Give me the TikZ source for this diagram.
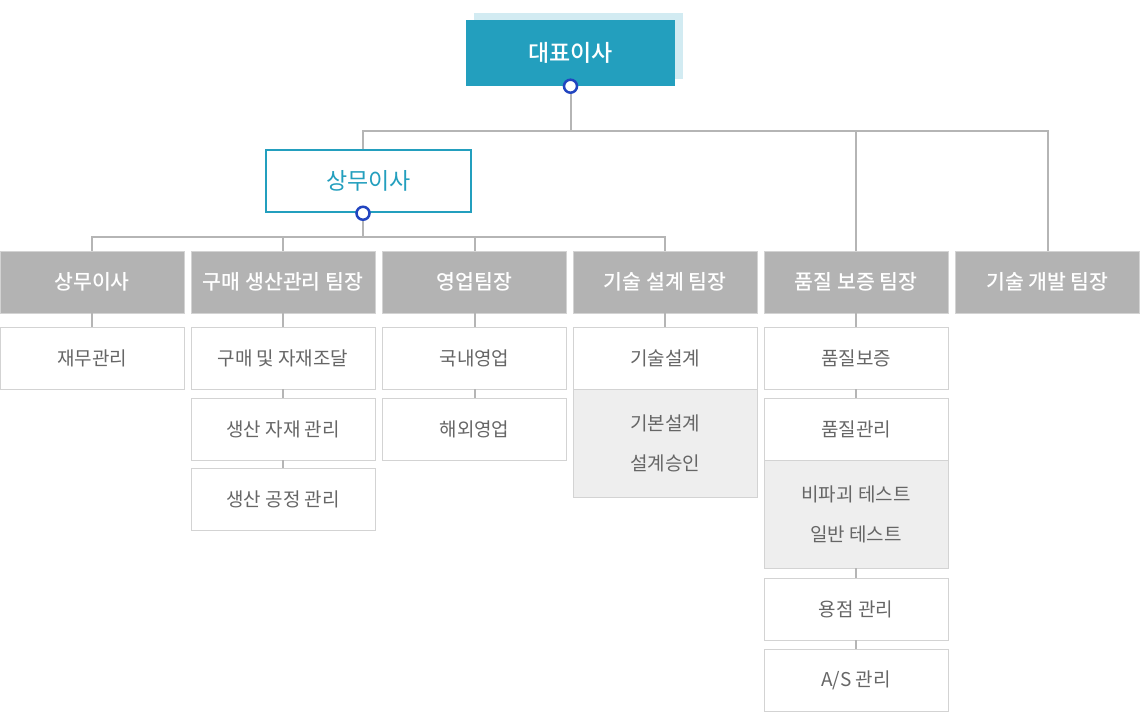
\documentclass[tikz,border=0pt]{standalone}
\usepackage{fontspec}
\setmainfont{Noto Sans CJK KR}
\newfontfamily\krmed{Noto Sans CJK KR Medium}
\usetikzlibrary{positioning,shadows}
\definecolor{ceoblue}{HTML}{239FBE}
\definecolor{ceoshade}{HTML}{D2EBF2}
\definecolor{dotblue}{HTML}{2245C0}
\definecolor{headgrey}{HTML}{B3B3B3}
\definecolor{framegrey}{HTML}{D3D3D3}
\definecolor{linkgrey}{HTML}{B5B5B5}
\definecolor{subfill}{HTML}{EEEEEE}
\definecolor{subtext}{HTML}{666666}
\begin{document}
\begin{tikzpicture}[x=1pt,y=-1pt,
    ceobox/.style={fill=ceoblue,minimum width=209pt,minimum height=66pt,inner sep=0pt,
        text=white,font=\krmed\fontsize{23}{27}\selectfont,
        general shadow={fill=ceoshade,shadow xshift=8pt,shadow yshift=7pt}},
    execbox/.style={draw=ceoblue,line width=2.5pt,fill=white,minimum width=205pt,minimum height=62pt,
        inner sep=0pt,text=ceoblue,font=\fontsize{23}{27}\selectfont},
    headbox/.style={draw=framegrey,fill=headgrey,minimum width=184pt,minimum height=62pt,inner sep=0pt,
        text=white,font=\krmed\fontsize{20.5}{24}\selectfont},
    subbox/.style={draw=framegrey,fill=white,minimum width=184pt,minimum height=62pt,inner sep=0pt,
        text=subtext,font=\fontsize{19}{23}\selectfont},
    pairbox/.style={subbox,fill=subfill,minimum height=108pt,align=center,font=\fontsize{19}{40}\selectfont},
    dot/.style={circle,draw=dotblue,fill=white,line width=2.5pt,minimum size=13pt,inner sep=0pt},
    link/.style={draw=linkgrey,line width=2pt}]
    \useasboundingbox (0,0) rectangle (1140,721);

    % top
    \node[ceobox] (ceo) at (570.5,53) {대표이사};
    \node[execbox] (exec) at (368.5,181) {상무이사};
    \coordinate (bus1) at (570.5,131);
    \coordinate (bus2) at (363,237);

    % team heads
    \node[headbox] (head1) at (92,282) {상무이사};
    \node[headbox] (head2) at (283,282) {구매 생산관리 팀장};
    \node[headbox] (head3) at (474.5,282) {영업팀장};
    \node[headbox] (head4) at (665,282) {기술 설계 팀장};
    \node[headbox] (head5) at (856,282) {품질 보증 팀장};
    \node[headbox] (head6) at (1047.5,282) {기술 개발 팀장};

    % tasks
    \node[subbox] (fin) at (92,358) {재무관리};
    \node[subbox] (buy) at (283,358) {구매 및 자재조달};
    \node[subbox] (stock) at (283,429) {생산 자재 관리};
    \node[subbox] (proc) at (283,499) {생산 공정 관리};
    \node[subbox] (home) at (474.5,358) {국내영업};
    \node[subbox] (abroad) at (474.5,429) {해외영업};
    \node[subbox] (design) at (665,358) {기술설계};
    \node[pairbox] (basic) at (665,443) {기본설계\\설계승인};
    \node[subbox] (qa) at (856,358) {품질보증};
    \node[subbox] (qc) at (856,429) {품질관리};
    \node[pairbox] (test) at (856,514) {비파괴 테스트\\일반 테스트};
    \node[subbox] (weld) at (856,609) {용점 관리};
    \node[subbox] (service) at (856,680) {A/S 관리};

    % connectors
    \coordinate (exectop) at (bus2 |- exec.north);
    \coordinate (execfoot) at (bus2 |- exec.south);
    \draw[link] (ceo.south) -- (bus1);
    \draw[link] (exectop) |- (bus1) -| (head6.north);
    \draw[link] (bus1 -| head5) -- (head5.north);
    \draw[link] (execfoot) -- (bus2);
    \draw[link] (head1.north) |- (bus2) -| (head4.north);
    \draw[link] (bus2 -| head2) -- (head2.north);
    \draw[link] (bus2 -| head3) -- (head3.north);
    \draw[link] (head1) -- (fin);
    \draw[link] (head2) -- (buy);
    \draw[link] (buy) -- (stock);
    \draw[link] (stock) -- (proc);
    \draw[link] (head3) -- (home);
    \draw[link] (home) -- (abroad);
    \draw[link] (head4) -- (design);
    \draw[link] (head5) -- (qa);
    \draw[link] (qa) -- (qc);
    \draw[link] (test) -- (weld);
    \draw[link] (weld) -- (service);

    \node[dot] (ceodot) at (ceo.south) {};
    \node[dot] (execdot) at (execfoot) {};
\end{tikzpicture}
\end{document}
